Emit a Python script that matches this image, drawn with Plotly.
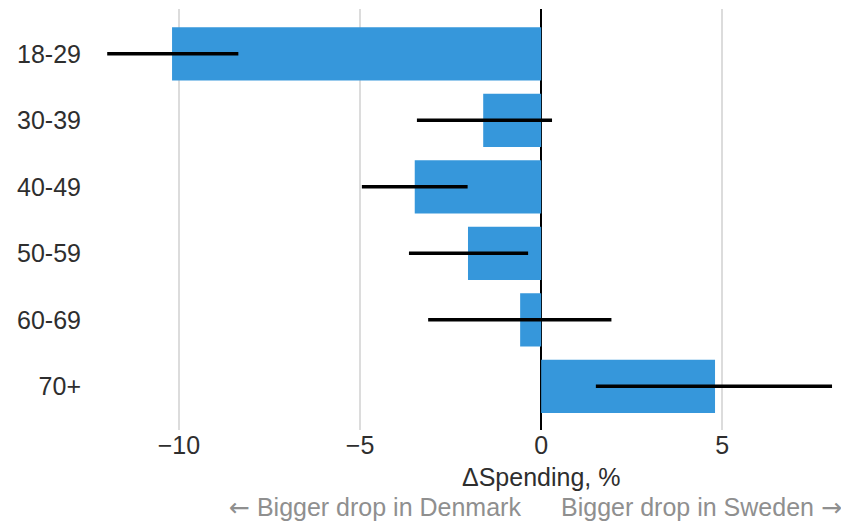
import plotly.graph_objects as go

# Age groups and the difference in spending change (Sweden vs Denmark), %
age_groups = ["18-29", "30-39", "40-49", "50-59", "60-69", "70+"]
delta_spending = [-10.19, -1.60, -3.49, -2.02, -0.58, 4.80]
ci_low = [-11.98, -3.43, -4.95, -3.65, -3.12, 1.51]
ci_high = [-8.36, 0.30, -2.03, -0.36, 1.94, 8.03]
x_ticks = [-10, -5, 0, 5]
x_tick_text = ["\u221210", "\u22125", "0", "5"]

FONT = "Liberation Sans, Arial, sans-serif"
TEXT = "#2e2e2e"
MUTED = "#8f8f8f"
SIZE = 25
ARROW = '<span style="font-family:DejaVu Sans">{}</span>'

fig = go.Figure()

fig.add_trace(go.Bar(
    x=delta_spending,
    y=age_groups,
    orientation="h",
    width=0.8,
    marker=dict(color="#3697DB", line=dict(width=0)),
    hoverinfo="x+y",
))

# Confidence intervals as plain horizontal segments
ci_x, ci_y = [], []
for lo, hi, g in zip(ci_low, ci_high, age_groups):
    ci_x += [lo, hi, None]
    ci_y += [g, g, None]
fig.add_trace(go.Scatter(
    x=ci_x, y=ci_y, mode="lines",
    line=dict(color="black", width=3.5),
    hoverinfo="skip",
))

fig.update_layout(
    width=841, height=527,
    margin=dict(l=92, r=1, t=9, b=97),
    plot_bgcolor="white", paper_bgcolor="white",
    showlegend=False,
    font=dict(family=FONT, size=SIZE, color=TEXT),
    xaxis=dict(
        range=[-12.4, 8.25],
        tickvals=x_ticks, ticktext=x_tick_text,
        showgrid=True, gridcolor="#dcdcdc", gridwidth=1.5,
        zeroline=True, zerolinecolor="black", zerolinewidth=2,
        showline=False, ticks="", ticklabelstandoff=-2,
        layer="above traces",
        tickfont=dict(size=SIZE, color=TEXT),
    ),
    yaxis=dict(
        type="category",
        categoryorder="array", categoryarray=age_groups,
        range=[5.657, -0.674],
        showgrid=False, zeroline=False, showline=False,
        ticks="", ticklabelstandoff=10,
        tickfont=dict(size=SIZE, color=TEXT),
    ),
    annotations=[
        dict(x=0, xref="x", y=0, yref="paper", yanchor="middle",
             yshift=-47, text="\u0394Spending, %", showarrow=False,
             font=dict(size=SIZE, color=TEXT)),
        dict(x=0, xref="x", y=0, yref="paper", xanchor="right",
             yanchor="middle", xshift=-18, yshift=-77,
             text=ARROW.format("\u2190") + " Bigger drop in Denmark",
             showarrow=False, font=dict(size=SIZE, color=MUTED)),
        dict(x=0, xref="x", y=0, yref="paper", xanchor="left",
             yanchor="middle", xshift=18, yshift=-77,
             text="Bigger drop in Sweden " + ARROW.format("\u2192"),
             showarrow=False, font=dict(size=SIZE, color=MUTED)),
    ],
)

fig.write_html("out.html")
